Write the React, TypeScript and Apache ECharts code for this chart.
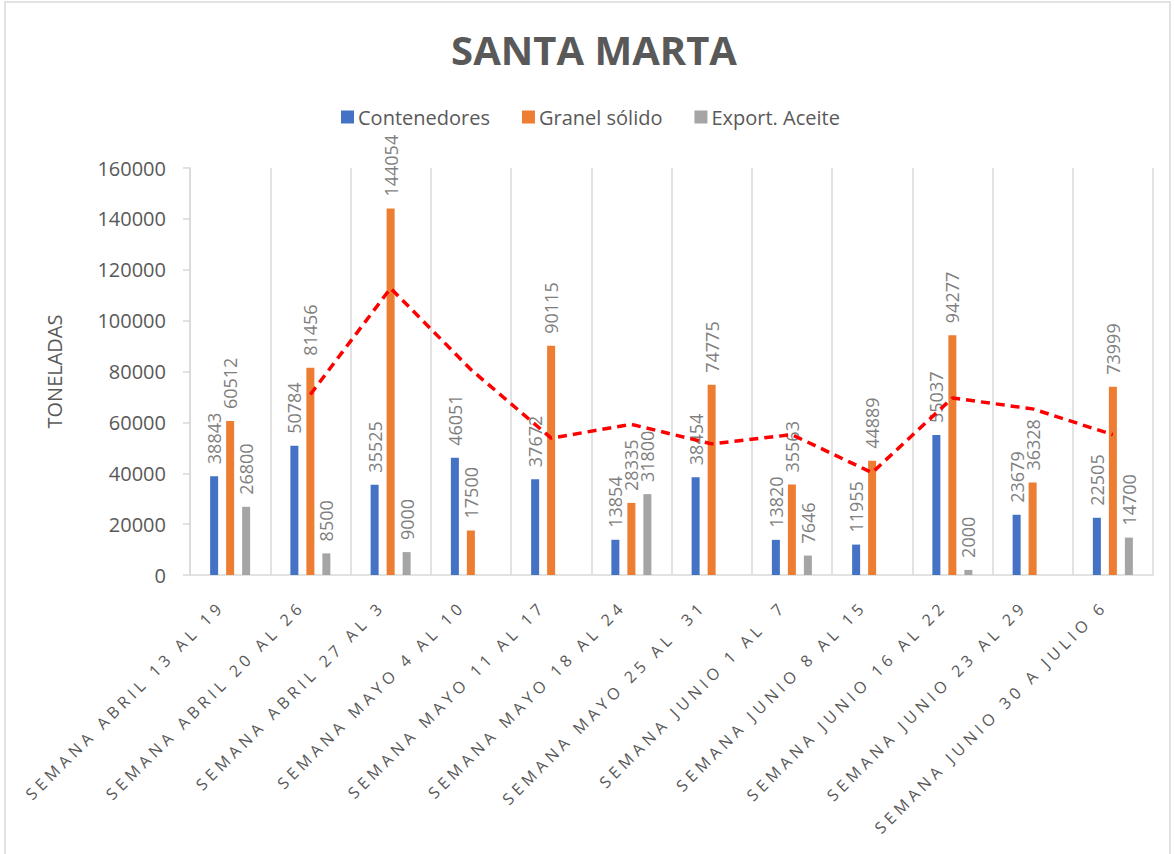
import React, { useEffect, useRef } from "react";
import * as echarts from "echarts";

const categories = [
  "SEMANA ABRIL 13 AL 19",
  "SEMANA ABRIL 20 AL 26",
  "SEMANA ABRIL 27 AL 3",
  "SEMANA MAYO 4 AL 10",
  "SEMANA MAYO 11 AL 17",
  "SEMANA MAYO 18 AL 24",
  "SEMANA MAYO 25 AL  31",
  "SEMANA JUNIO 1 AL  7",
  "SEMANA JUNIO 8 AL 15",
  "SEMANA JUNIO 16 AL 22",
  "SEMANA JUNIO 23 AL 29",
  "SEMANA JUNIO 30 A JULIO 6",
];

const contenedores = [38843, 50784, 35525, 46051, 37672, 13854, 38454, 13820, 11955, 55037, 23679, 22505];
const granelSolido = [60512, 81456, 144054, 17500, 90115, 28335, 74775, 35563, 44889, 94277, 36328, 73999];
const exportAceite = [26800, 8500, 9000, null, null, 31800, null, 7646, null, 2000, null, 14700];
// 2-period moving average trendline of "Granel sólido" (as drawn in the reference)
const tendenciaGranel = [null, 70984, 112755, 80777, 53808, 59225, 51555, 55169, 40226, 69583, 65303, 55164];

const yTicks = { min: 0, max: 160000, interval: 20000 };

const FONT = "'Open Sans', 'Liberation Sans', sans-serif";
const XLABEL_COLOR = "#585858";

export default function App() {
  const ref = useRef<HTMLDivElement>(null);

  useEffect(() => {
    document.body.style.margin = "0";
    if (!ref.current) return;
    const chart = echarts.init(ref.current, null, { renderer: "svg" });

    const dataLabel = {
      show: true,
      position: "top",
      rotate: 90,
      align: "left",
      verticalAlign: "middle",
      distance: 12,
      color: "#7f7f7f",
      fontSize: 18,
      fontFamily: FONT,
    };

    const barBase = {
      type: "bar",
      barWidth: 8,
      barGap: "100%",
      label: dataLabel,
    };

    chart.setOption({
      animation: false,
      backgroundColor: "#ffffff",
      textStyle: { fontFamily: FONT },
      graphic: [
        {
          type: "rect",
          shape: { x: 5, y: 2, width: 1165, height: 900 },
          style: { fill: "none", stroke: "#d9d9d9", lineWidth: 1.5 },
          silent: true,
          z: -1,
        },
      ],
      title: {
        text: "SANTA MARTA",
        left: 589,
        textAlign: "center",
        top: 24,
        textStyle: {
          fontFamily: FONT,
          fontSize: 40,
          fontWeight: "bold",
          color: "#595959",
        },
      },
      legend: {
        data: ["Contenedores", "Granel sólido", "Export. Aceite"],
        left: 336,
        top: 102,
        itemWidth: 13,
        itemHeight: 13,
        itemGap: 32,
        icon: "rect",
        textStyle: { fontFamily: FONT, fontSize: 20, color: "#595959", padding: [0, 0, 0, -1] },
      },
      grid: { left: 190, right: 21, top: 168, bottom: 279, containLabel: false },
      xAxis: {
        type: "category",
        data: categories,
        axisLine: { show: true, lineStyle: { color: "#d9d9d9", width: 1.5 } },
        axisTick: { show: false },
        splitLine: { show: true, lineStyle: { color: "#d9d9d9", width: 1.5 } },
        axisLabel: {
          interval: 0,
          rotate: 45,
          margin: 20,
          padding: [0, 12, 0, 0],
          fontSize: 16,
          fontFamily: FONT,
          color: XLABEL_COLOR,
        },
      },
      yAxis: {
        type: "value",
        min: yTicks.min,
        max: yTicks.max,
        interval: yTicks.interval,
        name: "TONELADAS",
        nameLocation: "middle",
        nameRotate: 90,
        nameGap: 126,
        nameTextStyle: { fontFamily: FONT, fontSize: 20, color: "#595959" },
        axisLine: { show: true, lineStyle: { color: "#d9d9d9", width: 1.5 } },
        axisTick: { show: true, inside: false, length: 7, lineStyle: { color: "#d9d9d9", width: 1.5 } },
        splitLine: { show: false },
        axisLabel: {
          margin: 24,
          fontSize: 20,
          fontFamily: FONT,
          color: "#595959",
          formatter: (v: number) => String(v),
        },
      },
      series: [
        { ...barBase, name: "Contenedores", data: contenedores, itemStyle: { color: "#4472C4" } },
        { ...barBase, name: "Granel sólido", data: granelSolido, itemStyle: { color: "#ED7D31" } },
        { ...barBase, name: "Export. Aceite", data: exportAceite, itemStyle: { color: "#A5A5A5" } },
        {
          type: "line",
          name: "Tendencia",
          data: tendenciaGranel,
          showSymbol: false,
          symbol: "none",
          connectNulls: false,
          lineStyle: { color: "#FF0000", width: 3.5, type: [9, 6] },
          z: 5,
        },
      ],
    });

    return () => chart.dispose();
  }, []);

  return (
    <div>
      <style>{`text[fill="${XLABEL_COLOR}"] { letter-spacing: 4.5px; }`}</style>
      <div ref={ref} style={{ width: 1174, height: 854 }} />
    </div>
  );
}
